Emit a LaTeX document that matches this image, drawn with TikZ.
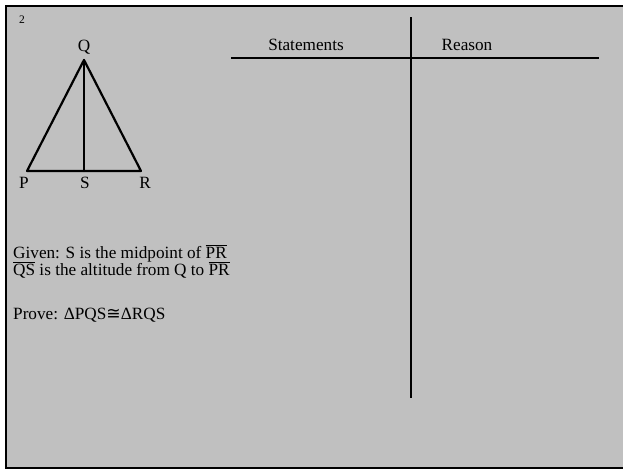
\documentclass[tikz,border=0pt]{standalone}
\usepackage{fontspec}
\setmainfont{Liberation Serif}
\newfontfamily\symfont{DejaVu Sans}
\definecolor{panel}{RGB}{192,192,192}
\newcommand{\ovl}[1]{$\overline{\hbox{#1}}$}
\begin{document}
\begin{tikzpicture}[x=1pt,y=-1pt,
  txt/.style={inner sep=0pt,font=\fontsize{17.2}{17}\selectfont},
  lbl/.style={inner sep=0pt,anchor=base,font=\fontsize{17.2}{17}\selectfont},
  seg/.style={line width=2.2pt,line cap=round,line join=round}]
\useasboundingbox (0,0) rectangle (623,471);
\begin{scope}
\clip (0,0) rectangle (623,471);
\draw[fill=panel,line width=2.5pt] (6,6) rectangle (640,468);
\end{scope}
\node[inner sep=0pt,anchor=base,font=\fontsize{11.5}{11.5}\selectfont] (num) at (22,23) {2};
% triangle
\coordinate (Q) at (84,60);
\coordinate (P) at (27,171);
\coordinate (S) at (84,171);
\coordinate (R) at (141,171);
\draw[seg] (P) -- (Q) -- (R) -- cycle;
\draw[seg] (Q) -- (S);
\node[lbl] (lq) at (84,51) {Q};
\node[lbl] (lp) at (24,188) {P};
\node[lbl] (ls) at (85,188) {S};
\node[lbl] (lr) at (145,188) {R};
% given
\node[txt,anchor=base west] (g1) at (13,258) {Given: S is the midpoint of \ovl{PR}};
\node[txt,anchor=base west] (g2) at (13,275) {\ovl{QS} is the altitude from Q to \ovl{PR}};
\node[txt,anchor=base west] (pr) at (13,319) {Prove: ΔPQS{\symfont ≅}ΔRQS};
% table
\coordinate (h1) at (231,58);
\coordinate (h2) at (599,58);
\coordinate (v1) at (411,17);
\coordinate (v2) at (411,398);
\draw[line width=2.2pt] (h1) -- (h2);
\draw[line width=2.2pt] (v1) -- (v2);
\node[lbl] (st) at (306,50) {Statements};
\node[lbl] (re) at (467,50) {Reason};
\end{tikzpicture}
\end{document}
